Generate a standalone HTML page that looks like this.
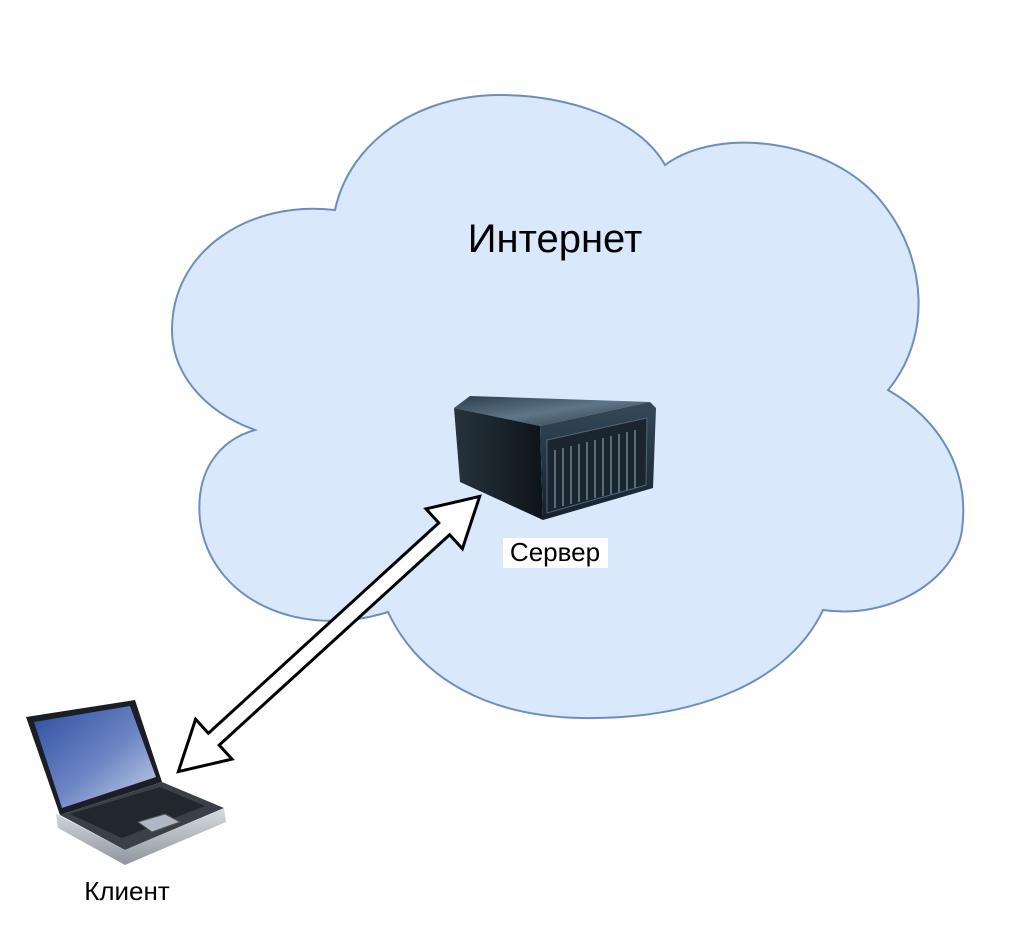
<!DOCTYPE html>
<html><head><meta charset="utf-8"><style>
html,body{margin:0;padding:0;background:#fff;}
svg{display:block;}
text{font-family:"Liberation Sans",sans-serif;}
</style></head><body>
<svg width="1024" height="936" viewBox="0 0 1024 936" xmlns="http://www.w3.org/2000/svg">
<defs>
<linearGradient id="top" x1="0" y1="0" x2="1" y2="1"><stop offset="0" stop-color="#2c3e4c"/><stop offset="0.5" stop-color="#5e7688"/><stop offset="1" stop-color="#24313c"/></linearGradient>
<linearGradient id="side" x1="0" y1="0" x2="1" y2="0"><stop offset="0" stop-color="#26333d"/><stop offset="1" stop-color="#0d1419"/></linearGradient>
<linearGradient id="front" x1="0" y1="0" x2="0" y2="1"><stop offset="0" stop-color="#34495a"/><stop offset="1" stop-color="#16212a"/></linearGradient>
<linearGradient id="scr" x1="0" y1="0" x2="1" y2="1"><stop offset="0" stop-color="#2d4fa0"/><stop offset="0.55" stop-color="#6d86c4"/><stop offset="1" stop-color="#c9d3ea"/></linearGradient>
<linearGradient id="base" x1="0" y1="0" x2="0" y2="1"><stop offset="0" stop-color="#d9dde2"/><stop offset="1" stop-color="#8e959d"/></linearGradient>
</defs>
<path d="M335,210 C350,140 420,95 500,95 C570,95 640,120 665,165 C720,125 830,140 880,200 C930,260 930,340 888,390 C940,420 970,470 962,530 C955,580 890,620 823,610 C790,680 700,720 580,718 C490,716 420,680 388,612 C300,640 210,600 200,520 C195,470 220,440 255,430 C200,410 172,370 172,330 C172,250 250,200 335,210 Z" fill="#dae8fc" stroke="#6c8ebf" stroke-width="2"/>
<text x="555" y="252" font-size="40" text-anchor="middle" fill="#000">Интернет</text>
<!-- server -->
<polygon points="454,408 470,396 650,402 540,426" fill="url(#top)"/>
<polygon points="454,408 540,426 543,520 460,482" fill="url(#side)"/>
<polygon points="540,426 650,402 656,408 653,488 543,520" fill="url(#front)"/>
<polygon points="547,440 647,418 646,485 547,513" fill="#1a252d" stroke="#51667a" stroke-width="1"/>
<g stroke="#6f8496" stroke-width="1.5">
<line x1="555" y1="450" x2="555" y2="508"/><line x1="563" y1="448" x2="563" y2="506"/><line x1="571" y1="446" x2="571" y2="504"/><line x1="579" y1="444" x2="579" y2="502"/><line x1="587" y1="442" x2="587" y2="500"/><line x1="595" y1="440" x2="595" y2="498"/><line x1="603" y1="438" x2="603" y2="496"/><line x1="611" y1="436" x2="611" y2="494"/><line x1="619" y1="434" x2="619" y2="492"/><line x1="627" y1="432" x2="627" y2="490"/><line x1="635" y1="430" x2="635" y2="488"/>
</g>
<rect x="503" y="538" width="105" height="30" fill="#fff"/>
<text x="555" y="561" font-size="26" text-anchor="middle" fill="#000">Сервер</text>
<!-- arrow -->
<g transform="translate(329,634) rotate(-42.4)">
<polygon points="-204,0 -156,-27 -156,-8 156,-8 156,-27 204,0 156,27 156,8 -156,8 -156,27" fill="#fff" stroke="#000" stroke-width="3" stroke-linejoin="miter"/>
</g>
<!-- laptop -->
<polygon points="26,717 135,700 162,782 60,815" fill="#1b1f25"/>
<polygon points="34,722 130,706 156,777 62,808" fill="url(#scr)"/>
<polygon points="60,815 162,782 224,808 125,850" fill="#3a4048"/>
<polygon points="70,814 160,787 205,806 122,838" fill="#22272d"/>
<polygon points="138,822 165,814 180,822 152,832" fill="#aeb8c4" stroke="#555" stroke-width="1"/>
<polygon points="56,814 125,850 224,808 226,822 125,865 58,828" fill="url(#base)"/>
<text x="127" y="900" font-size="26" text-anchor="middle" fill="#000">Клиент</text>
</svg>
</body></html>
